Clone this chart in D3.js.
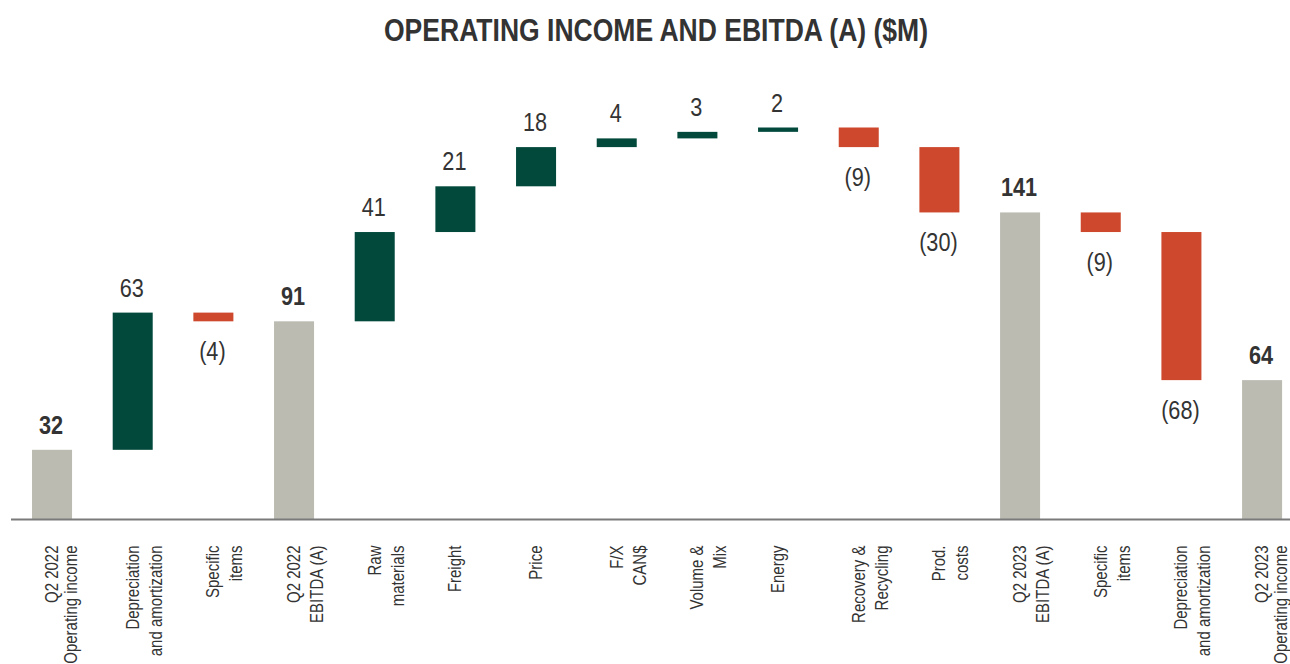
<!DOCTYPE html>
<html><head><meta charset="utf-8">
<script src="https://cdn.jsdelivr.net/npm/d3@7"></script>
<style>body{margin:0;background:#fff}</style>
</head><body>
<svg id="chart" width="1290" height="664"></svg>
<script>
const categories = [
  ["Q2 2022","Operating income"],
  ["Depreciation","and amortization"],
  ["Specific","items"],
  ["Q2 2022","EBITDA (A)"],
  ["Raw","materials"],
  ["Freight"],
  ["Price"],
  ["F/X","CAN$"],
  ["Volume &","Mix"],
  ["Energy"],
  ["Recovery &","Recycling"],
  ["Prod.","costs"],
  ["Q2 2023","EBITDA (A)"],
  ["Specific","items"],
  ["Depreciation","and amortization"],
  ["Q2 2023","Operating income"]
];
const values = [32, 63, -4, 91, 41, 21, 18, 4, 3, 2, -9, -30, 141, -9, -68, 64];
const isTotal = [true, false, false, true, false, false, false, false, false, false, false, false, true, false, false, true];
const valueLabels = ["32","63","(4)","91","41","21","18","4","3","2","(9)","(30)","141","(9)","(68)","64"];
const title = "OPERATING INCOME AND EBITDA (A) ($M)";

const colors = {total:"#BBBBB2", up:"#02493C", down:"#CD482D", text:"#333333", axis:"#7a7a7a"};
const FONT = "'Liberation Sans', Arial, sans-serif";
const NARROW = 0.81; // emulate a condensed face

const svg = d3.select("#chart");
const ids = categories.map((c,i)=>i);
const x = d3.scaleBand().domain(ids).range([11.7, 11.7 + 16*80.67]).paddingInner(0.504).paddingOuter(0.252);
const y = d3.scaleLinear().domain([0, 180]).range([519.5, 127.5]);

// compute waterfall
let run = 0;
const bars = values.map((v,i)=>{
  let y0, y1;
  if (isTotal[i]) { y0 = 0; y1 = v; run = v; }
  else { y0 = run; y1 = run + v; run = y1; }
  return {i, v, y0, y1, total:isTotal[i]};
});

svg.append("text")
  .attr("transform", "translate(656,41) scale(0.842,1)")
  .attr("text-anchor","middle")
  .attr("font-family", FONT)
  .attr("font-weight","bold")
  .attr("font-size", 31.5)
  .attr("fill", colors.text)
  .text(title);

svg.selectAll("rect.bar").data(bars).enter().append("rect")
  .attr("class","bar")
  .attr("x", d=>x(d.i))
  .attr("width", x.bandwidth())
  .attr("y", d=>y(Math.max(d.y0,d.y1)))
  .attr("height", d=>Math.abs(y(d.y0)-y(d.y1)))
  .attr("fill", d=> d.total ? colors.total : (d.v>=0 ? colors.up : colors.down));

// axis line
const axis = d3.axisBottom(x).tickSize(0).tickFormat("");
svg.append("g").attr("transform","translate(0,519.5)").call(axis)
  .call(g=>g.select(".domain").attr("d","M11,0H1290").attr("stroke",colors.axis).attr("stroke-width",2));

// value labels
svg.selectAll("text.val").data(bars).enter().append("text")
  .attr("class","val")
  .attr("transform", d=>{
    const cx = x(d.i)+x.bandwidth()/2 - 1;
    const cy = d.v>=0 ? y(Math.max(d.y0,d.y1)) - 16 : y(Math.min(d.y0,d.y1)) + 39;
    return `translate(${cx},${cy}) scale(0.85,1)`;
  })
  .attr("text-anchor","middle")
  .attr("font-family", FONT)
  .attr("font-size", 25.5)
  .attr("font-weight", d=>d.total ? "bold" : "normal")
  .attr("fill", colors.text)
  .text(d=>valueLabels[d.i]);

// category labels
const lab = svg.selectAll("g.cat").data(ids).enter().append("g")
  .attr("class","cat")
  .attr("transform", i=>`translate(${x(i)+x.bandwidth()/2+6},545.5) rotate(-90) scale(${NARROW},1)`);
lab.each(function(i){
  const lines = categories[i];
  const gap = (lines[1] && lines[1].startsWith("Operating")) ? 19 : 23;
  const t = d3.select(this).append("text")
    .attr("text-anchor","end")
    .attr("font-family", FONT)
    .attr("font-size", 18.5)
    .attr("fill", colors.text);
  lines.forEach((line,k)=>{
    t.append("tspan").attr("x",0).attr("y", k*gap).text(line);
  });
});
</script>
</body></html>
